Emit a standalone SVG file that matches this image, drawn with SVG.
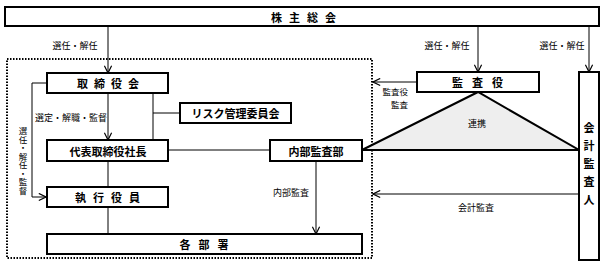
<svg xmlns="http://www.w3.org/2000/svg" width="605" height="267" viewBox="0 0 605 267">
<defs>
<style>
.box{fill:#fff;stroke:#000;stroke-width:2}
.ln{fill:none;stroke:#000;stroke-width:1}
.t{font-family:"Noto Sans CJK JP","Noto Sans",sans-serif;font-size:11px;font-weight:bold;fill:#000;text-anchor:middle;dominant-baseline:central}
.s{font-family:"Noto Sans CJK JP","Noto Sans",sans-serif;font-size:9px;fill:#000;text-anchor:middle;dominant-baseline:central}
.v{font-family:"Noto Sans CJK JP","Noto Sans",sans-serif;font-size:8.5px;fill:#000;writing-mode:vertical-rl;text-anchor:start}
</style>
<marker id="ar" viewBox="0 0 10 10" refX="9" refY="5" markerWidth="9" markerHeight="9" orient="auto" markerUnits="userSpaceOnUse">
<path d="M1,1 L9,5 L1,9" fill="none" stroke="#000" stroke-width="1.3"/>
</marker>
</defs>
<rect width="605" height="267" fill="#fff"/>
<rect x="7" y="59" width="365" height="199" fill="none" stroke="#000" stroke-width="2" stroke-dasharray="1.5 1.5"/>
<g id="connectors">
<line class="ln" x1="108" y1="26" x2="108" y2="73" marker-end="url(#ar)"/>
<line class="ln" x1="478" y1="26" x2="478" y2="72" marker-end="url(#ar)"/>
<line class="ln" x1="589" y1="26" x2="589" y2="72" marker-end="url(#ar)"/>
<line class="ln" x1="417" y1="82" x2="373" y2="82" marker-end="url(#ar)"/>
<line class="ln" x1="579" y1="194" x2="373" y2="194" marker-end="url(#ar)"/>
<line class="ln" x1="108" y1="93" x2="108" y2="140" marker-end="url(#ar)"/>
<polyline class="ln" points="153,93 153,140"/>
<polyline class="ln" points="153,113 180,113"/>
<line class="ln" x1="168" y1="150" x2="270" y2="150"/>
<line class="ln" x1="108" y1="161" x2="108" y2="187"/>
<line class="ln" x1="108" y1="207" x2="108" y2="234"/>
<line class="ln" x1="316" y1="161" x2="316" y2="234" marker-end="url(#ar)"/>
<polyline class="ln" points="47,83 32,83 32,197 46,197" marker-end="url(#ar)"/>
<polygon points="478,92 362,150 579,150" fill="#eeeeee" stroke="#000" stroke-width="2" stroke-linejoin="miter"/>
<text class="s" x="75" y="45">選任・解任</text>
<text class="s" x="447" y="45">選任・解任</text>
<text class="s" x="562" y="45">選任・解任</text>
<text class="s" x="71" y="117">選定・解職・監督</text>
<text class="s" style="text-anchor:end;font-size:8.5px" x="408" y="91">監査役<tspan x="408" dy="13">監査</tspan></text>
<text class="s" x="477" y="123">連携</text>
<text class="s" x="291" y="192">内部監査</text>
<text class="s" x="476" y="207">会計監査</text>
<text class="v" x="23" y="127">選任・解任・監督</text>
</g>
<g id="kabunushi">
<rect class="box" x="5" y="7" width="594" height="19"/>
<text class="t" x="307" y="16.5" style="letter-spacing:7px">株主総会</text>
</g>
<g id="torishimariyakukai">
<rect class="box" x="47" y="73" width="121" height="20"/>
<text class="t" x="111" y="83" style="letter-spacing:6px">取締役会</text>
</g>
<g id="risk">
<rect class="box" x="180" y="103" width="111" height="20"/>
<text class="t" x="235.5" y="113">リスク管理委員会</text>
</g>
<g id="shacho">
<rect class="box" x="47" y="140" width="121" height="21"/>
<text class="t" x="108" y="150.5">代表取締役社長</text>
</g>
<g id="shikkou">
<rect class="box" x="47" y="187" width="121" height="20"/>
<text class="t" x="111" y="197" style="letter-spacing:7px">執行役員</text>
</g>
<g id="kakubusho">
<rect class="box" x="47" y="234" width="315" height="20"/>
<text class="t" x="208" y="244" style="letter-spacing:8px">各部署</text>
</g>
<g id="naibu">
<rect class="box" x="270" y="140" width="92" height="21"/>
<text class="t" x="316" y="150.5">内部監査部</text>
</g>
<g id="kansayaku">
<rect class="box" x="417" y="72" width="122" height="20"/>
<text class="t" x="482" y="82" style="letter-spacing:9px">監査役</text>
</g>
<g id="kaikei">
<rect class="box" x="579" y="72" width="20" height="188"/>
<text class="t" x="589" y="122" style="writing-mode:vertical-rl;text-anchor:start;dominant-baseline:auto;letter-spacing:7px">会計監査人</text>
</g>
</svg>
